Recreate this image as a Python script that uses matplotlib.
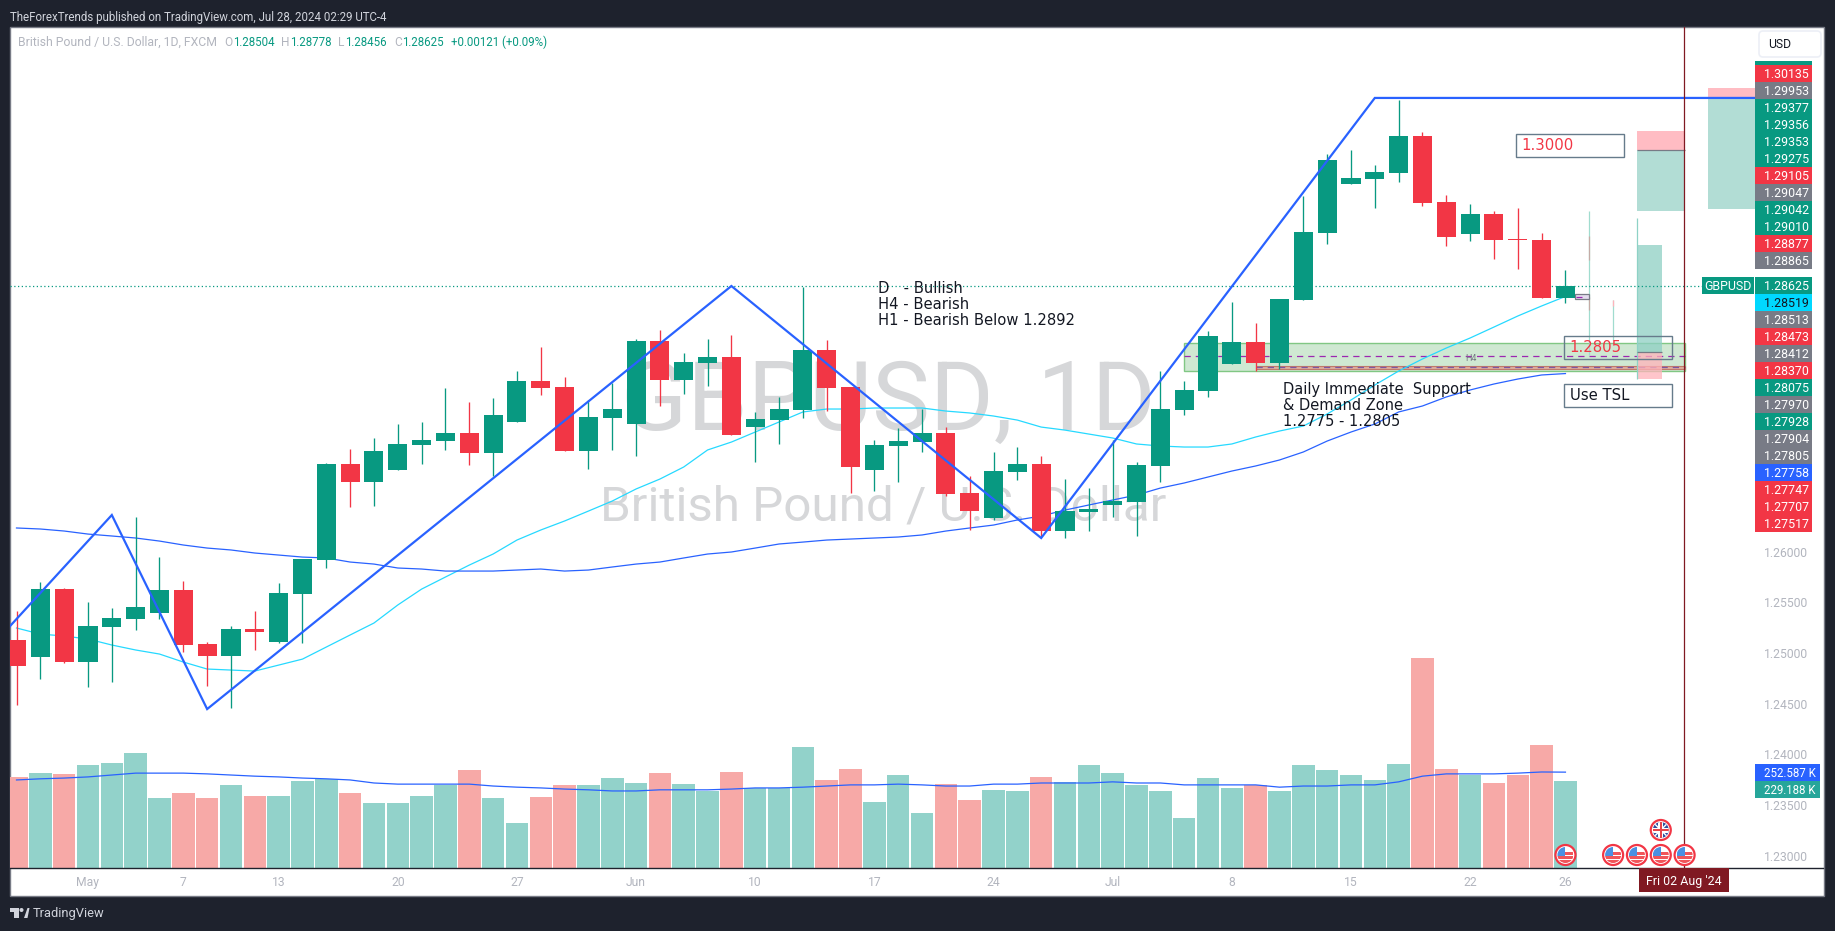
import matplotlib
matplotlib.use("Agg")
import matplotlib.pyplot as plt
from matplotlib.patches import Rectangle, Circle, Polygon, FancyBboxPatch

# ---------- data ----------
opens = [1.25128,1.24960,1.25631,1.24911,1.25257,1.25335,1.25395,1.25622,1.25089,1.24970,
         1.25237,1.25108,1.25582,1.25918,1.26865,1.26688,1.26806,1.27053,1.27092,1.27171,
         1.26974,1.27280,1.27685,1.27625,1.26994,1.27319,1.27260,1.28079,1.27694,1.27862,
         1.27921,1.27230,1.27299,1.27398,1.27991,1.27625,1.26806,1.27043,1.27082,1.27171,
         1.26579,1.26332,1.26786,1.26865,1.26204,1.26392,1.26461,1.26490,1.26846,1.27398,
         1.27586,1.27852,1.28069,1.27862,1.28484,1.29145,1.29629,1.29678,1.29737,1.30103,
         1.29451,1.29135,1.29333,1.29086,1.29076,1.28504]
highs = [1.25414,1.25700,1.25641,1.25503,1.25444,1.26342,1.25947,1.25710,1.25108,1.25266,
         1.25414,1.25690,1.25928,1.26875,1.27013,1.27122,1.27260,1.27280,1.27615,1.27477,
         1.27517,1.27783,1.28021,1.27724,1.27497,1.27665,1.28099,1.28188,1.27961,1.28099,
         1.28139,1.27379,1.27527,1.28612,1.28089,1.27625,1.27102,1.27221,1.27408,1.27230,
         1.26747,1.26984,1.27033,1.26944,1.26717,1.26628,1.27102,1.26885,1.27783,1.27685,
         1.28178,1.28464,1.28257,1.28494,1.29510,1.29925,1.29965,1.29816,1.30458,1.30142,
         1.29520,1.29431,1.29362,1.29392,1.29145,1.28778]
lows = [1.24487,1.24743,1.24901,1.24664,1.24714,1.25227,1.25335,1.25010,1.24674,1.24457,
        1.25030,1.25099,1.25099,1.25839,1.26441,1.26451,1.26806,1.26865,1.27004,1.26855,
        1.26747,1.27280,1.27546,1.26994,1.26816,1.27004,1.26944,1.27438,1.27556,1.27635,
        1.27152,1.26885,1.27063,1.27319,1.27388,1.26579,1.26599,1.26688,1.26984,1.26549,
        1.26214,1.26313,1.26707,1.26155,1.26135,1.26204,1.26342,1.26155,1.26688,1.27349,
        1.27527,1.27852,1.27783,1.27803,1.28484,1.29037,1.29629,1.29392,1.29649,1.29412,
        1.29017,1.29066,1.28889,1.28790,1.28504,1.28456]
closes = [1.24872,1.25631,1.24911,1.25266,1.25345,1.25454,1.25622,1.25079,1.24970,1.25237,
          1.25207,1.25592,1.25928,1.26865,1.26688,1.26994,1.27063,1.27102,1.27171,1.26974,
          1.27349,1.27685,1.27615,1.26994,1.27329,1.27408,1.28079,1.27694,1.27872,1.27921,
          1.27152,1.27309,1.27408,1.27991,1.27615,1.26836,1.27053,1.27092,1.27171,1.26569,
          1.26401,1.26796,1.26865,1.26204,1.26401,1.26421,1.26500,1.26855,1.27408,1.27596,
          1.28129,1.28069,1.27862,1.28494,1.29155,1.29866,1.29688,1.29747,1.30103,1.29441,
          1.29106,1.29333,1.29076,1.29076,1.28504,1.28625]
red_days = [0,2,7,8,10,14,19,22,23,27,30,34,35,39,40,43,52,59,60,62,63,64]
volume_k = [240,250,248,271,277,303,184,198,184,219,
            190,190,229,235,198,171,171,190,219,258,
            184,119,187,219,219,237,224,250,221,203,
            253,211,211,319,232,261,174,245,145,221,
            179,206,203,240,227,271,250,219,203,132,
            237,211,219,203,271,258,245,232,274,553,
            261,245,224,245,324,229.188]
volume_ma_k = [232,235,237,240,245,250,250,250,248,245,
               242,240,237,235,232,224,221,221,221,221,
               216,213,211,208,206,203,203,206,206,206,
               208,211,211,213,216,219,219,221,219,216,
               216,221,221,224,224,224,227,224,224,219,
               219,219,219,213,216,216,219,219,227,242,
               248,248,248,250,253,252.587]
ma_fast = [1.25247,1.25187,1.25168,1.25138,1.25079,1.25030,1.24990,1.24911,1.24842,1.24832,
           1.24822,1.24881,1.24940,1.25059,1.25178,1.25296,1.25474,1.25631,1.25750,1.25868,
           1.25977,1.26115,1.26214,1.26303,1.26401,1.26500,1.26619,1.26717,1.26836,1.27004,
           1.27082,1.27181,1.27280,1.27379,1.27408,1.27408,1.27418,1.27418,1.27418,1.27388,
           1.27369,1.27339,1.27299,1.27230,1.27200,1.27161,1.27122,1.27063,1.27043,1.27033,
           1.27033,1.27063,1.27132,1.27191,1.27240,1.27359,1.27497,1.27645,1.27783,1.27902,
           1.28010,1.28109,1.28217,1.28326,1.28425,1.28519]
ma_slow = [1.26234,1.26224,1.26204,1.26174,1.26155,1.26135,1.26105,1.26066,1.26036,1.26017,
           1.25987,1.25967,1.25947,1.25938,1.25898,1.25878,1.25839,1.25829,1.25809,1.25809,
           1.25809,1.25819,1.25829,1.25809,1.25819,1.25849,1.25878,1.25898,1.25938,1.25977,
           1.25997,1.26036,1.26076,1.26095,1.26115,1.26125,1.26135,1.26145,1.26165,1.26204,
           1.26234,1.26263,1.26313,1.26352,1.26411,1.26461,1.26510,1.26559,1.26628,1.26678,
           1.26737,1.26796,1.26846,1.26905,1.26984,1.27092,1.27181,1.27260,1.27379,1.27438,
           1.27527,1.27596,1.27655,1.27704,1.27744,1.27758]
zigzag_x = [-1,4,8,30,43,57,74]
zigzag_y = [1.25079,1.26362,1.24447,1.28622,1.26135,1.30478,1.30478]
x_tick_pos = [3,7,11,16,21,26,31,36,41,46,51,56,61,65]
x_tick_lab = ["May","7","13","20","27","Jun","10","17","24","Jul","8","15","22","26"]
y_ticks = [1.23,1.235,1.24,1.245,1.25,1.255,1.26]
labels_upper = [("1.30135","r"),("1.29953","k"),("1.29377","g"),("1.29356","g"),("1.29353","g"),
                ("1.29275","g"),("1.29105","r"),("1.29047","k"),("1.29042","g"),("1.29010","g"),
                ("1.28877","r"),("1.28865","k")]
labels_lower = [("1.28625","g"),("1.28519","c"),("1.28513","k"),("1.28473","r"),("1.28412","k"),
                ("1.28370","r"),("1.28075","g"),("1.27970","k"),("1.27928","g"),("1.27904","k"),
                ("1.27805","k"),("1.27758","b"),("1.27747","r"),("1.27707","r"),("1.27517","r")]
last_price = 1.28625

# ---------- style ----------
UP, DOWN = "#089981", "#f23645"
BG = "#1e222d"
GREY = "#b2b5be"
LBL = {"r": DOWN, "k": "#787b86", "g": UP, "c": "#00d8ff", "b": "#2962ff"}
FONT = "Roboto"

W, H = 1835, 931
PL, PR, PT, PB = 10, 1755, 27, 868            # price pane in pixels
X0, DX = 16.5, 23.83                          # first bar centre, bar spacing
Y126, PXU = 551.7, 10133.0                    # pixel of 1.26, pixels per unit
VOL_PX = 2.635                                # thousand units per pixel

def pxi(i):
    return X0 + DX * i

fig = plt.figure(figsize=(W / 100, H / 100), dpi=100, facecolor=BG)

bg = fig.add_axes([0, 0, 1, 1], zorder=0)
bg.set_xlim(0, W); bg.set_ylim(H, 0); bg.axis("off")
bg.add_patch(Rectangle((9.5, 26.5), 1814.5, 869, fc="white", ec="#787b86", lw=1))

rect = [PL / W, (H - PB) / H, (PR - PL) / W, (PB - PT) / H]
axv = fig.add_axes(rect, zorder=1)
ax = fig.add_axes(rect, zorder=2)
xlim = ((PL - X0) / DX, (PR - X0) / DX)
for a in (ax, axv):
    a.patch.set_alpha(0)
    a.set_xlim(*xlim)
    for s in a.spines.values():
        s.set_visible(False)
ax.set_ylim(1.26 + (Y126 - PB) / PXU, 1.26 + (Y126 - PT) / PXU)
axv.set_ylim(0, (PB - PT) * VOL_PX)
axv.set_xticks([]); axv.set_yticks([])

idx = list(range(len(opens)))
is_red = [i in red_days for i in idx]
cols = [DOWN if r else UP for r in is_red]

# volume
axv.bar(idx, volume_k, width=0.945,
        color=["#f7a9a7" if r else "#92d2ca" for r in is_red], linewidth=0)
axv.plot(idx, volume_ma_k, color="#2962ff", lw=0.9)

# watermark
bg.text(888, 404, "GBPUSD, 1D", fontsize=70, color="#d6d7d9", ha="center", va="center",
        family=FONT, zorder=1)
bg.text(883, 507, "British Pound / U.S. Dollar", fontsize=35.6, color="#d6d7d9", ha="center",
        va="center", family=FONT, zorder=1)

# zones
ax.add_patch(Rectangle((49, 1.27788), 21, 1.28059 - 1.27788, fc="#cfe8d2", ec="#81c784", lw=1, zorder=1))
ax.add_patch(Rectangle((52, 1.27803), 18, 1.27832 - 1.27803, fc="#dcae9e", ec="#c0796a", lw=0.8, zorder=1.1))
ax.hlines(1.27931, 49, 70, color="#9c27b0", lw=0.9, ls=(0, (5, 4)), zorder=1.2)
ax.hlines(1.27820, 52, 70, color="#7e57a2", lw=0.9, ls=(0, (5, 4)), zorder=1.2)
ax.text(61.05, 1.27905, "H4", fontsize=6.5, color="#787b86", ha="center", va="center", family=FONT, zorder=1.3)

# position tools
TEAL, PINK = "#b2ddd5", "#ffbcc3"
def pos(x0, x1, y0, y1, c):
    ax.add_patch(Rectangle((x0, y0), x1 - x0, y1 - y0, fc=c, ec="none", zorder=1.5))
pos(68, 70, 1.29965, 1.30152, PINK)
pos(68, 70, 1.29362, 1.29965, TEAL)
ax.hlines(1.29965, 68, 70, color="#787b86", lw=0.9, zorder=1.6)
pos(71, 74, 1.30465, 1.30577, PINK)
pos(71, 74, 1.29385, 1.30465, TEAL)
pos(68, 69.05, 1.27974, 1.29027, "#8fd0c4c0")
pos(68, 69.05, 1.27705, 1.27974, "#ffb3bbc0")
ax.hlines(1.27974, 68, 69.05, color="#787b86", lw=0.9, zorder=1.6)
ax.vlines(68, 1.27705, 1.29293, color="#8ed2c6", lw=0.9, zorder=1.55)
ax.vlines(66, 1.27941, 1.29362, color="#a0dccf", lw=0.9, zorder=1.55)
ax.vlines(66, 1.28879, 1.29115, color="#c4aba6", lw=0.9, zorder=1.56)
ax.vlines(66, 1.28385, 1.28514, color="#c4aba6", lw=0.9, zorder=1.56)
ax.vlines(67, 1.28089, 1.28484, color="#a0dccf", lw=0.9, zorder=1.55)
ax.vlines(67, 1.28425, 1.28484, color="#ffb3bb", lw=0.9, zorder=1.56)

# last price line and crosshair
ax.hlines(last_price, xlim[0], (1702 - X0) / DX, color=UP, lw=0.9, ls=(0, (1, 2)), zorder=1.7)
ax.axvline(69.97, color="#801922", lw=0.9, zorder=6)

# moving averages
ax.plot(idx, ma_fast, color="#26d9ff", lw=0.9, zorder=2)
ax.plot(idx, ma_slow, color="#2962ff", lw=0.9, zorder=2)

# candles
ax.vlines(idx, lows, highs, colors=cols, lw=0.95, zorder=3)
ax.bar(idx, [abs(c - o) for o, c in zip(opens, closes)],
       bottom=[min(o, c) for o, c in zip(opens, closes)],
       width=0.8, color=cols, linewidth=0, zorder=3.1)

# zigzag
ax.plot(zigzag_x, zigzag_y, color="#2962ff", lw=1.6, zorder=4, solid_joinstyle="miter")

# small marker box at last bar
ax.add_patch(Rectangle((65.4, 1.28497), 0.6, 1.2854 - 1.28497, fc="#e4dcee", ec="#787b86", lw=0.9, zorder=3.05))
ax.hlines(1.28518, 65.45, 65.7, color="#9c27b0", lw=0.9, zorder=3.06)

# axes ticks
ax.yaxis.tick_right()
ax.set_yticks(y_ticks)
ax.set_yticklabels([f"{t:.5f}" for t in y_ticks])
ax.set_xticks(x_tick_pos)
ax.set_xticklabels(x_tick_lab)
ax.tick_params(axis="y", length=0, pad=6.5, labelsize=8.7, labelcolor=GREY)
ax.tick_params(axis="x", length=0, pad=5.5, labelsize=8.7, labelcolor=GREY)
for t in ax.get_xticklabels() + ax.get_yticklabels():
    t.set_family(FONT)

# overlay in pixels
top = fig.add_axes([0, 0, 1, 1], zorder=5)
top.set_xlim(0, W); top.set_ylim(H, 0); top.axis("off"); top.patch.set_alpha(0)

top.plot([PL, 1823], [PB, PB], color="#1e222d", lw=1.0, zorder=1)

def note(x0, y0, x1, y1, txt, col, fill):
    top.add_patch(Rectangle((x0, y0), x1 - x0, y1 - y0, fc=fill, ec="#667b8b", lw=1, zorder=2))
    top.text(x0 + 5.5, (y0 + y1) / 2, txt, color=col, fontsize=10.7, va="center", ha="left",
             family="DejaVu Sans", zorder=3)
note(1516, 134, 1624, 157, "1.3000", DOWN, "white")
note(1564, 336, 1672, 358.5, "1.2805", DOWN, "none")
note(1564, 384, 1672, 406.5, "Use TSL", "#131722", "white")

for k, s in enumerate(["D   - Bullish", "H4 - Bearish", "H1 - Bearish Below 1.2892"]):
    top.text(877.5, 288.5 + 16 * k, s, fontsize=10.6, color="#131722", va="center", family="DejaVu Sans")
for k, s in enumerate(["Daily Immediate  Support", "& Demand Zone", "1.2775 - 1.2805"]):
    top.text(1283, 389.5 + 16 * k, s, fontsize=10.5, color="#131722", va="center", family="DejaVu Sans")

# price scale labels
top.add_patch(Rectangle((PR, 61), 57, 5, fc=UP, ec="none"))
def stack(items, y0):
    for k, (s, c) in enumerate(items):
        y = y0 + 17 * k
        top.add_patch(Rectangle((PR, y - 8.5), 57, 17, fc=LBL[c], ec="none", zorder=2))
        top.text(1764, y + 0.8, s, color="#131722" if c == "c" else "white", fontsize=8.9,
                 va="center", ha="left", family=FONT, zorder=3)
stack(labels_upper, 73.3)
stack(labels_lower, 285.3)

top.add_patch(Rectangle((1702, 277), 52, 17, fc=UP, ec="none", zorder=2))
top.text(1728, 286, "GBPUSD", color="white", fontsize=8.9, ha="center", va="center", family=FONT, zorder=3)

for y, s, c in [(772.6, "252.587 K", "#2962ff"), (789.6, "229.188 K", "#26a69a")]:
    top.add_patch(Rectangle((PR, y - 8.5), 65, 17, fc=c, ec="none", zorder=2))
    top.text(1764, y + 0.8, s, color="white", fontsize=8.3, ha="left", va="center", family=FONT, zorder=3)

# USD button
top.add_patch(FancyBboxPatch((1761, 33), 58, 22, boxstyle="round,pad=2,rounding_size=4",
                             fc="white", ec="#eceff6", lw=1.2))
top.text(1768, 45, "USD", fontsize=8.7, color="#131722", va="center", family=FONT)

# crosshair date label
top.add_patch(Rectangle((1639, PB), 90, 24, fc="#801922", ec="none", zorder=2))
top.text(1684, 881.5, "Fri 02 Aug '24", color="white", fontsize=8.9, ha="center", va="center", family=FONT, zorder=3)

# header and legend line
top.text(10, 17.5, "TheForexTrends published on TradingView.com, Jul 28, 2024 02:29 UTC-4",
         color="#d1d4dc", fontsize=8.3, va="center", family=FONT)
legend = [(18, "British Pound / U.S. Dollar, 1D, FXCM", GREY, 8.8), (224, "O", GREY, 8.6),
          (233, "1.28504", UP, 8.3), (281, "H", GREY, 8.6), (290, "1.28778", UP, 8.3),
          (338, "L", GREY, 8.6), (345, "1.28456", UP, 8.3), (394, "C", GREY, 8.6),
          (402, "1.28625", UP, 8.3), (451, "+0.00121 (+0.09%)", UP, 8.3)]
for x, s, c, fs in legend:
    top.text(x, 42.5, s, color=c, fontsize=fs, va="center", family=FONT)

# TradingView logo
LOGO = "#d1d4dc"
top.add_patch(Rectangle((10, 908), 9, 4, fc=LOGO, ec="none"))
top.add_patch(Rectangle((14, 908), 5, 10, fc=LOGO, ec="none"))
top.add_patch(Circle((21.5, 910), 2, fc=LOGO, ec="none"))
top.add_patch(Polygon([(24, 918), (27.5, 908), (29.5, 908), (27.5, 918)], fc=LOGO, ec="none"))
top.text(33, 913.5, "TradingView", color=LOGO, fontsize=9.3, va="center", family=FONT)

# calendar flags
def flag(i, y, kind):
    x = pxi(i)
    disc = Circle((x, y), 10, fc="white", ec="#f23645", lw=1.6, zorder=6)
    top.add_patch(disc)
    clip = Circle((x, y), 8, transform=top.transData)
    if kind == "us":
        parts = [Rectangle((x - 8, y + 1), 16, 2.5, fc="#f0555a", ec="none"),
                 Rectangle((x - 8, y + 5), 16, 3.5, fc="#f0555a", ec="none"),
                 Rectangle((x, y - 3), 8, 2.5, fc="#f0555a", ec="none"),
                 Rectangle((x - 8, y - 8), 8, 8.5, fc="#4a90e2", ec="none")]
    else:
        parts = [Rectangle((x - 8, y - 8), 16, 16, fc="#2f4f9e", ec="none"),
                 Polygon([(x - 8, y - 7), (x - 7, y - 8), (x + 8, y + 7), (x + 7, y + 8)], fc="white", ec="none"),
                 Polygon([(x + 8, y - 7), (x + 7, y - 8), (x - 8, y + 7), (x - 7, y + 8)], fc="white", ec="none"),
                 Rectangle((x - 8, y - 2.5), 16, 5, fc="white", ec="none"),
                 Rectangle((x - 2.5, y - 8), 5, 16, fc="white", ec="none"),
                 Rectangle((x - 8, y - 1.2), 16, 2.4, fc="#e5434a", ec="none"),
                 Rectangle((x - 1.2, y - 8), 2.4, 16, fc="#e5434a", ec="none")]
    for p in parts:
        p.set_zorder(7)
        top.add_patch(p)
        p.set_clip_path(clip)

for i, y, kind in [(65, 855, "us"), (67, 855, "us"), (68, 855, "us"), (69, 855, "us"),
                   (70, 855, "us"), (69, 830, "uk")]:
    flag(i, y, kind)

fig.savefig("out.png", dpi=100, facecolor=BG)
